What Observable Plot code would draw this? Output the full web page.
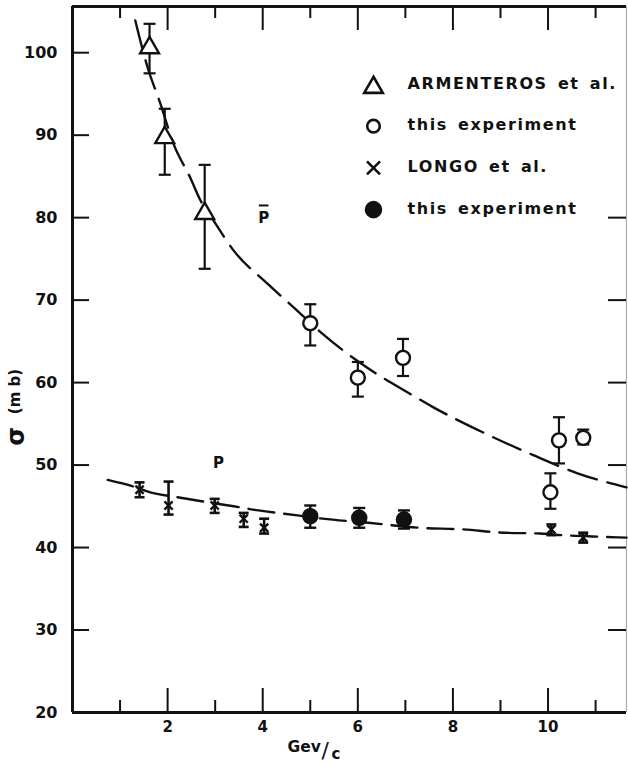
<!DOCTYPE html>
<html><head><meta charset="utf-8">
<script src="https://cdn.jsdelivr.net/npm/d3@7"></script>
<script src="https://cdn.jsdelivr.net/npm/@observablehq/plot@0.6"></script>
<style>body{margin:0;background:#fff}#chart svg{display:block}</style>
</head><body><div id="chart"></div>
<script>
// ---- data ----
const armX  = [1.62, 1.94, 2.78];
const armY  = [100.6, 89.7, 80.5];
const armLo = [97.5, 85.2, 73.8];
const armHi = [103.5, 93.2, 86.4];

const pbarX  = [5.0, 6.0, 6.95, 10.05, 10.23, 10.74];
const pbarY  = [67.2, 60.6, 63.0, 46.7, 53.0, 53.3];
const pbarLo = [64.5, 58.3, 60.8, 44.7, 50.2, 52.5];
const pbarHi = [69.5, 62.5, 65.3, 49.0, 55.8, 54.3];

const longoX  = [1.41, 2.02, 2.99, 3.6, 4.03, 10.07, 10.74];
const longoY  = [47.0, 45.1, 45.1, 43.5, 42.4, 42.2, 41.2];
const longoLo = [46.1, 44.0, 44.2, 42.5, 41.7, 41.5, 40.6];
const longoHi = [47.9, 48.0, 45.9, 44.2, 43.5, 42.8, 41.8];

const pX  = [5.0, 6.03, 6.97];
const pY  = [43.8, 43.6, 43.4];
const pLo = [42.4, 42.4, 42.3];
const pHi = [45.1, 44.8, 44.5];

const pbarCurveX = [1.32, 1.58, 1.85, 2.12, 2.48, 2.69, 2.97, 3.39, 4.1, 4.73, 5.26, 6.2, 7.05, 7.59, 8.58, 9.69, 10.62, 11.65];
const pbarCurveY = [103.9, 98.2, 93.8, 89.0, 84.8, 82.1, 79.6, 76.0, 72.0, 68.7, 65.9, 61.8, 58.8, 57.0, 54.1, 51.2, 49.0, 47.3];
const pCurveX = [0.74, 1.28, 1.70, 2.21, 2.84, 3.39, 3.91, 4.73, 5.26, 6.22, 7.28, 8.22, 9.06, 9.84, 10.3, 11.15, 11.65];
const pCurveY = [48.2, 47.4, 46.6, 46.1, 45.5, 45.0, 44.5, 43.9, 43.5, 43.0, 42.4, 42.2, 41.8, 41.7, 41.5, 41.3, 41.2];

const xMajorTicks = [2, 4, 6, 8, 10];
const xMinorTicks = [1, 3, 5, 7, 9, 11];
const yTicks = [20, 30, 40, 50, 60, 70, 80, 90, 100];
const yTicksLeft = [30, 40, 50, 60, 70, 80, 90, 100];
const yTicksRight = [30, 40, 50, 60, 70, 80];
const xDomain = [0, 11.65];
const yDomain = [20, 105.6];

const legendLabels = ["ARMENTEROS et al.", "this experiment", "LONGO et al.", "this experiment"];
const curveLabels = ["P", "P"];
const curveLabelX = [4.02, 3.07];
const curveLabelY = [79.9, 50.2];

// ---- helpers ----
const zip = (xs, ys, lo, hi) => xs.map((x, i) => ({x, y: ys[i], lo: lo ? lo[i] : null, hi: hi ? hi[i] : null}));
const arm = zip(armX, armY, armLo, armHi);
const pbar = zip(pbarX, pbarY, pbarLo, pbarHi);
const longo = zip(longoX, longoY, longoLo, longoHi);
const pexp = zip(pX, pY, pLo, pHi);
const pbarCurve = zip(pbarCurveX, pbarCurveY);
const pCurve = zip(pCurveX, pCurveY);
const labels = curveLabels.map((t, i) => ({t, x: curveLabelX[i], y: curveLabelY[i]}));

const cap = {draw(ctx, size) { const w = Math.sqrt(size / Math.PI); ctx.moveTo(-w, 0); ctx.lineTo(w, 0); }};
const ink = "#111";
const W = 628, H = 766, mL = 72, mR = 2, mT = 6, mB = 54;
const iw = W - mL - mR, ih = H - mT - mB;

function errorBars(data, capR, sw = 2.2) {
  return [
    Plot.ruleX(data, {x: "x", y1: "lo", y2: "hi", stroke: ink, strokeWidth: sw}),
    Plot.dot(data, {x: "x", y: "lo", symbol: cap, r: capR, stroke: ink, strokeWidth: sw}),
    Plot.dot(data, {x: "x", y: "hi", symbol: cap, r: capR, stroke: ink, strokeWidth: sw})
  ];
}

const legendSym = [
  {symbol: "triangle", r: 6.9, fill: "white", stroke: ink},
  {symbol: "circle", r: 6.3, fill: "white", stroke: ink},
  {symbol: "times", r: 6.0, fill: "none", stroke: ink},
  {symbol: "circle", r: 7.5, fill: ink, stroke: ink}
];
const legendMarks = legendLabels.flatMap((lab, i) => {
  const dy = 77 + i * 41.7;
  return [
    Plot.dot([lab], {frameAnchor: "top-left", dx: 301, dy: dy + (i === 0 ? 4 : 1), strokeWidth: 2.6, ...legendSym[i]}),
    Plot.text([lab], {frameAnchor: "top-left", dx: 335, dy, textAnchor: "start", lineAnchor: "middle", fontSize: 16, fontWeight: "bold", fill: ink})
  ];
});

const chart = Plot.plot({
  width: W, height: H,
  marginLeft: mL, marginRight: mR, marginTop: mT, marginBottom: mB,
  x: {domain: xDomain},
  y: {domain: yDomain},
  style: {fontFamily: "DejaVu Sans", fontSize: "15px", color: ink, background: "white", overflow: "visible"},
  marks: [
    // frame
    Plot.ruleY([yDomain[0]], {stroke: ink, strokeWidth: 3}),
    Plot.ruleY([yDomain[1]], {stroke: ink, strokeWidth: 3}),
    Plot.ruleX([xDomain[0]], {stroke: ink, strokeWidth: 3}),
    Plot.ruleX([xDomain[1]], {stroke: "#aaa", strokeWidth: 1.2}),
    // inward ticks
    Plot.tickX(xMajorTicks, {x: d => d, insetTop: ih - 24, stroke: ink, strokeWidth: 2}),
    Plot.tickX(xMinorTicks, {x: d => d, insetTop: ih - 12, stroke: ink, strokeWidth: 2}),
    Plot.tickX(xMajorTicks, {x: d => d, insetBottom: ih - 24, stroke: ink, strokeWidth: 2}),
    Plot.tickX(xMinorTicks, {x: d => d, insetBottom: ih - 12, stroke: ink, strokeWidth: 2}),
    Plot.tickY(yTicksLeft, {y: d => d, insetRight: iw - 17, stroke: ink, strokeWidth: 2}),
    Plot.tickY(yTicksRight, {y: d => d, insetLeft: iw - 18, stroke: ink, strokeWidth: 2}),
    // axes labels
    Plot.axisY({ticks: yTicks, tickSize: 0, tickPadding: 15, fontSize: 16, fontWeight: "bold", label: null}),
    Plot.axisX({ticks: xMajorTicks, tickSize: 0, tickPadding: 9, fontSize: 15, fontWeight: "bold", label: null}),
    // fitted curves
    Plot.line(pbarCurve, {x: "x", y: "y", curve: "monotone-x", stroke: ink, strokeWidth: 2.4, strokeDasharray: "30,11"}),
    Plot.line(pCurve, {x: "x", y: "y", curve: "monotone-x", stroke: ink, strokeWidth: 2.4, strokeDasharray: "26,10"}),
    // error bars
    ...errorBars(arm, 6),
    ...errorBars(pbar, 6),
    ...errorBars(longo, 5, 2.6),
    ...errorBars(pexp, 6, 2.4),
    // points
    Plot.dot(arm, {x: "x", y: "y", symbol: "triangle", r: 7, fill: "white", stroke: ink, strokeWidth: 2.4}),
    Plot.dot(pbar, {x: "x", y: "y", symbol: "circle", r: 7, fill: "white", stroke: ink, strokeWidth: 2.4}),
    Plot.dot(longo, {x: "x", y: "y", symbol: "times", r: 3.8, stroke: ink, strokeWidth: 2.4}),
    Plot.dot(pexp, {x: "x", y: "y", symbol: "circle", r: 7.5, fill: ink, stroke: ink}),
    // curve labels (P with overbar for the antiproton curve)
    Plot.text(labels, {x: "x", y: "y", text: "t", fontSize: 15, fontWeight: "bold", fill: ink}),
    Plot.dot(labels.slice(0, 1), {x: "x", y: "y", symbol: cap, r: 4.8, dy: -13, stroke: ink, strokeWidth: 2}),
    // legend
    ...legendMarks,
    // axis titles
    Plot.text(["\u03c3"], {frameAnchor: "left", dx: -56, dy: 77, rotate: -90, textAnchor: "middle", lineAnchor: "middle", fontSize: 24, fontWeight: "bold", fill: ink}),
    Plot.text(["(m b)"], {frameAnchor: "left", dx: -57, dy: 32, rotate: -90, textAnchor: "middle", lineAnchor: "middle", fontSize: 15, fontWeight: "bold", fill: ink}),
    Plot.text(["Gev"], {frameAnchor: "bottom-left", dx: 215, dy: 35, textAnchor: "start", lineAnchor: "middle", fontSize: 15.5, fontWeight: "bold", fill: ink}),
    Plot.text(["/"], {frameAnchor: "bottom-left", dx: 249, dy: 38, textAnchor: "start", lineAnchor: "middle", fontSize: 22, fill: ink}),
    Plot.text(["c"], {frameAnchor: "bottom-left", dx: 259, dy: 42, textAnchor: "start", lineAnchor: "middle", fontSize: 15, fontWeight: "bold", fill: ink})
  ]
});
d3.select(chart).selectAll("text")
  .filter(function() { return legendLabels.includes(this.textContent); })
  .style("letter-spacing", "1.6px").style("word-spacing", "3px");
document.getElementById("chart").appendChild(chart);
</script>
</body></html>
